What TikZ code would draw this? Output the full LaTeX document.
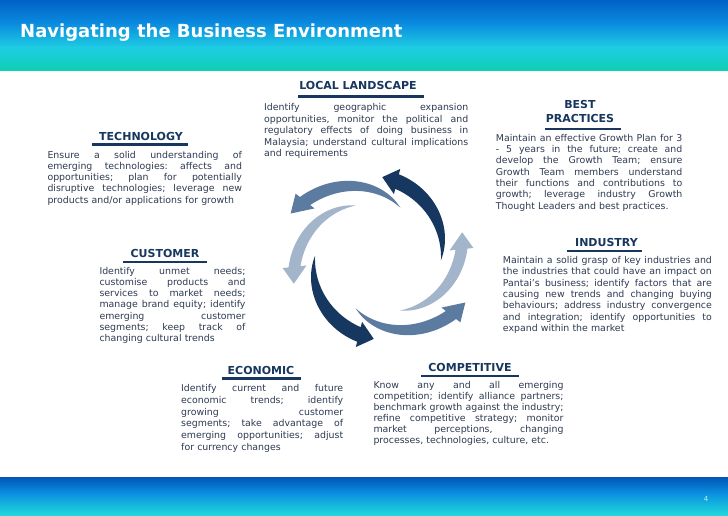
\documentclass[tikz,border=0pt]{standalone}
\usepackage{fontspec}
\setmainfont{DejaVu Sans}
\definecolor{navy}{HTML}{17375E}
\definecolor{bodytxt}{HTML}{2E3B52}
\definecolor{arrD}{HTML}{16375F}
\definecolor{arrM}{HTML}{5B7BA0}
\definecolor{arrL}{HTML}{A2B5CA}
\definecolor{hA}{HTML}{0062C6}
\definecolor{hB}{HTML}{0A8ADF}
\definecolor{hC}{HTML}{1ECDE2}
\definecolor{hD}{HTML}{0FCFB5}
\definecolor{fA}{HTML}{0056B6}
\definecolor{fB}{HTML}{0A8EDF}
\definecolor{fC}{HTML}{20D8DC}
\definecolor{pgnum}{HTML}{B8ECF8}
\newcommand{\lw}{200pt}
\newcommand{\jl}[1]{\leavevmode\hbox to \lw{\frenchspacing\spaceskip=.318em plus 1fil minus .04em\relax #1}}
\newcommand{\bfs}[1]{\fontsize{9.4}{#1}\selectfont\frenchspacing}
% a = tail angle, hb = head base angle, b = tip angle, r0, r1, W, H, colour
\newcommand{\swirlarrow}[8]{%
  \pgfmathsetmacro{\sk}{(#5-#4)/(#3-#1)}%
  \pgfmathsetmacro{\rhb}{#4+\sk*(#2-#1)}%
  \fill[#8] plot[smooth,domain=#1:#2,samples=30]
      (\x:{#4+\sk*(\x-#1)+#6/2*((\x-#1)/(#2-#1))*(2-(\x-#1)/(#2-#1))})
    -- (#2:{\rhb+#7/2}) -- (#3:#5) -- (#2:{\rhb-#7/2})
    -- plot[smooth,domain=#2:#1,samples=30]
      (\x:{#4+\sk*(\x-#1)-#6/2*((\x-#1)/(#2-#1))*(2-(\x-#1)/(#2-#1))})
    -- cycle;}
\begin{document}
\begin{tikzpicture}[x=1pt,y=-1pt,
  head/.style={font=\fontsize{11}{14}\selectfont\bfseries, text=navy, inner sep=0, anchor=base, align=center},
  uline/.style={navy, line width=2.3pt},
  body/.style={text=bodytxt, inner sep=0, anchor=base west, align=left, text width=#1,
    execute at begin node={\renewcommand{\lw}{#1}}}]
\useasboundingbox (0,0) rectangle (728,515);
\fill[white] (0,0) rectangle (728,515);
% header band
\shade[top color=hA, bottom color=hB] (0,0) rectangle (728,23);
\shade[top color=hB, bottom color=hC] (0,22.6) rectangle (728,48);
\shade[top color=hC, bottom color=hD] (0,47.6) rectangle (728,70);
% footer band
\shade[top color=fA, bottom color=fB] (0,477) rectangle (728,493);
\shade[top color=fB, bottom color=fC] (0,492.6) rectangle (728,515);
\node[anchor=base west, text=white, font=\fontsize{18}{20}\selectfont\bfseries, inner sep=0] (title) at (20,37) {Navigating the Business Environment};
\node[font=\fontsize{7}{8}\selectfont, text=pgnum, inner sep=0] (pg) at (706,499) {4};

% swirl
\begin{scope}[shift={(378,258)}, yscale=-1]
  \swirlarrow{113}{186}{197}{57}{88}{12}{24}{arrL}
  \swirlarrow{293}{366}{377}{57}{88}{12}{24}{arrL}
  \swirlarrow{66}{142}{153}{55}{98}{13}{24}{arrM}
  \swirlarrow{246}{322}{333}{55}{98}{13}{24}{arrM}
  \swirlarrow{-2}{76}{87}{63}{81}{15}{26}{arrD}
  \swirlarrow{178}{256}{267}{63}{81}{15}{26}{arrD}
\end{scope}

% LOCAL LANDSCAPE
\node[head] (hLocal) at (358,89.7) {LOCAL LANDSCAPE};
\draw[uline] (298,96.5) -- (424,96.5);
\node[body=204pt, font=\bfs{11.4}] (tLocal) at (264,110.8) {%
\jl{Identify geographic expansion}\\
\jl{opportunities, monitor the political and}\\
\jl{regulatory effects of doing business in}\\
\jl{Malaysia; understand cultural implications}\\
and requirements};

% BEST PRACTICES
\node[head] (hBest) at (580,122.3) {BEST\\PRACTICES};
\draw[uline] (545,129.3) -- (621,129.3);
\node[body=186.5pt, font=\bfs{11.3}] (tBest) at (495.7,141.3) {%
\jl{Maintain an effective Growth Plan for 3}\\
\jl{- 5 years in the future; create and}\\
\jl{develop the Growth Team; ensure}\\
\jl{Growth Team members understand}\\
\jl{their functions and contributions to}\\
\jl{growth; leverage industry Growth}\\
Thought Leaders and best practices.};

% TECHNOLOGY
\node[head] (hTech) at (141,140) {TECHNOLOGY};
\draw[uline] (92,144.6) -- (188,144.6);
\node[body=194.5pt, font=\bfs{11.3}] (tTech) at (47.3,158) {%
\jl{Ensure a solid understanding of}\\
\jl{emerging technologies: affects and}\\
\jl{opportunities; plan for potentially}\\
\jl{disruptive technologies; leverage new}\\
products and/or applications for growth};

% CUSTOMER
\node[head] (hCust) at (165,257.3) {CUSTOMER};
\draw[uline] (123,262) -- (207,262);
\node[body=146pt, font=\bfs{11.27}] (tCust) at (99.3,274) {%
\jl{Identify unmet needs;}\\
\jl{customise products and}\\
\jl{services to market needs;}\\
\jl{manage brand equity; identify}\\
\jl{emerging customer}\\
\jl{segments; keep track of}\\
changing cultural trends};

% INDUSTRY
\node[head] (hInd) at (606.5,246.7) {INDUSTRY};
\draw[uline] (566.7,251.3) -- (641.7,251.3);
\node[body=209pt, font=\bfs{11.4}] (tInd) at (502.7,263.3) {%
\jl{Maintain a solid grasp of key industries and}\\
\jl{the industries that could have an impact on}\\
\jl{Pantai’s business; identify factors that are}\\
\jl{causing new trends and changing buying}\\
\jl{behaviours; address industry convergence}\\
\jl{and integration; identify opportunities to}\\
expand within the market};

% ECONOMIC
\node[head] (hEco) at (261,374) {ECONOMIC};
\draw[uline] (221.7,378.6) -- (300.7,378.6);
\node[body=162pt, font=\bfs{11.67}] (tEco) at (181,391.7) {%
\jl{Identify current and future}\\
\jl{economic trends; identify}\\
\jl{growing customer}\\
\jl{segments; take advantage of}\\
\jl{emerging opportunities; adjust}\\
for currency changes};

% COMPETITIVE
\node[head] (hComp) at (470,371.7) {COMPETITIVE};
\draw[uline] (421,376.3) -- (519,376.3);
\node[body=190pt, font=\bfs{11}] (tComp) at (373.3,388.3) {%
\jl{Know any and all emerging}\\
\jl{competition; identify alliance partners;}\\
\jl{benchmark growth against the industry;}\\
\jl{refine competitive strategy; monitor}\\
\jl{market perceptions, changing}\\
processes, technologies, culture, etc.};
\end{tikzpicture}
\end{document}
